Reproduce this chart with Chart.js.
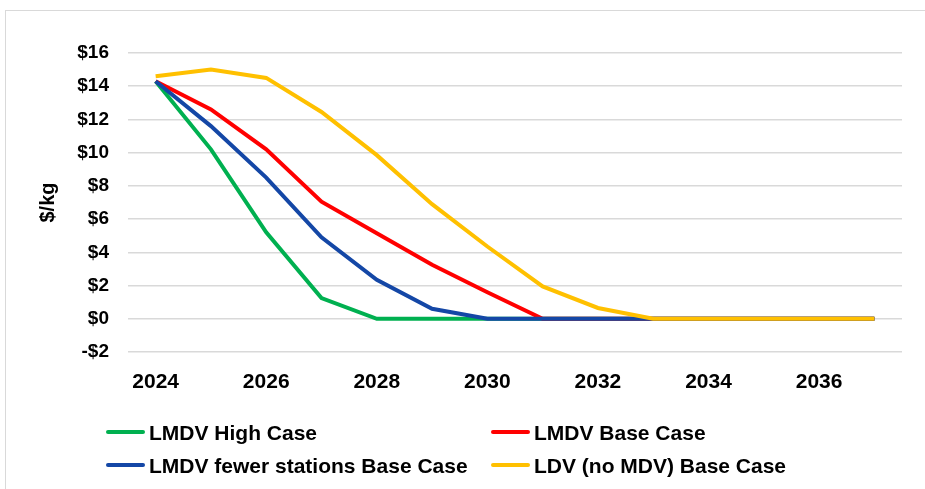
<!DOCTYPE html>
<html>
<head>
<meta charset="utf-8">
<script src="https://cdn.jsdelivr.net/npm/chart.js@4"></script>
<style>
  html, body { margin: 0; padding: 0; background: #fff; overflow: hidden; }
  #wrap { position: relative; width: 925px; height: 489px; overflow: hidden; }
  #frame { position: absolute; left: 5px; top: 10px; width: 960px; height: 520px; border: 1px solid #d9d9d9; }
  #c { position: absolute; left: 0; top: 0; }
  .lg { position: absolute; font: bold 21px "Liberation Sans", Arial, sans-serif; color: #000; white-space: nowrap; }
  .lg span.sw { position: absolute; left: 0; top: 50%; width: 39px; height: 4px; margin-top: -2px; border-radius: 2px; }
  .lg span.tx { position: absolute; left: 43px; top: 0; line-height: 1; transform: translateY(-50%); }
</style>
</head>
<body>
<div id="wrap">
  <div id="frame"></div>
  <canvas id="c" width="925" height="489"></canvas>
  <div id="legend"></div>
</div>
<script>
// ── data ─────────────────────────────────────
const years = [2024, 2025, 2026, 2027, 2028, 2029, 2030, 2031, 2032, 2033, 2034, 2035, 2036, 2037];

const seriesNames  = ['LMDV High Case', 'LMDV Base Case', 'LMDV fewer stations Base Case', 'LDV (no MDV) Base Case'];
const seriesColors = ['#00B050', '#FF0000', '#1447A6', '#FFC000'];

const lmdvHigh   = [14.3, 10.2, 5.2, 1.25, 0, 0, 0, 0, 0, 0, 0, 0, 0, 0];
const lmdvBase   = [14.3, 12.6, 10.2, 7.05, 5.15, 3.25, 1.6, 0, 0, 0, 0, 0, 0, 0];
const lmdvFewer  = [14.3, 11.6, 8.5, 4.9, 2.35, 0.6, 0, 0, 0, 0, 0, 0, 0, 0];
const ldvNoMdv   = [14.6, 15.0, 14.5, 12.45, 9.85, 6.9, 4.35, 1.95, 0.65, 0, 0, 0, 0, 0];

const yTicks = [-2, 0, 2, 4, 6, 8, 10, 12, 14, 16];

// ── chart ────────────────────────────────────
const FONT = '"Liberation Sans", Arial, sans-serif';
const allSeries = [lmdvHigh, lmdvBase, lmdvFewer, ldvNoMdv];

// later series sit on top, as in the source (lower order = drawn last)
const datasets = allSeries.map((d, i) => ({
  label: seriesNames[i],
  data: d,
  order: allSeries.length - i,
  borderColor: seriesColors[i],
  backgroundColor: seriesColors[i],
  borderWidth: 4,
  pointRadius: 0,
  tension: 0,
  fill: false,
}));

const ctx = document.getElementById('c').getContext('2d');
new Chart(ctx, {
  type: 'line',
  data: { labels: years.map(String), datasets },
  options: {
    responsive: false,
    animation: false,
    layout: { padding: { left: 28, right: 23, top: 53, bottom: 97 } },
    plugins: { legend: { display: false }, tooltip: { enabled: false } },
    scales: {
      x: {
        offset: true,
        grid: { display: false, drawTicks: false },
        border: { display: false },
        ticks: {
          autoSkip: false,
          maxRotation: 0,
          padding: 18,
          color: '#000',
          font: { family: FONT, size: 21, weight: 'bold' },
          callback: (v, i) => (years[i] % 2 === 0 ? String(years[i]) : ''),
        },
        afterFit: s => { s.height = 40; },
      },
      y: {
        min: -2,
        max: 16,
        afterBuildTicks: s => { s.ticks = yTicks.map(v => ({ value: v })); },
        grid: { color: '#d9d9d9', lineWidth: 1.5, drawTicks: false },
        border: { display: false },
        ticks: {
          padding: 19,
          color: '#000',
          font: { family: FONT, size: 19, weight: 'bold' },
          callback: v => (v < 0 ? '-$' + Math.abs(v) : '$' + v),
        },
        title: {
          display: true,
          text: '$/kg',
          color: '#000',
          padding: { top: 8, bottom: 0 },
          font: { family: FONT, size: 20, weight: 'bold' },
        },
        afterFit: s => { s.width = 100; },
      },
    },
  },
});

// ── legend (two columns, like the source) ───
const legendPos = [[106, 432], [491, 432], [106, 465], [491, 465]];
const lg = document.getElementById('legend');
seriesNames.forEach((name, i) => {
  const el = document.createElement('div');
  el.className = 'lg';
  el.style.left = legendPos[i][0] + 'px';
  el.style.top = legendPos[i][1] + 'px';
  el.innerHTML = '<span class="sw" style="background:' + seriesColors[i] + '"></span><span class="tx">' + name + '</span>';
  lg.appendChild(el);
});
</script>
</body>
</html>
